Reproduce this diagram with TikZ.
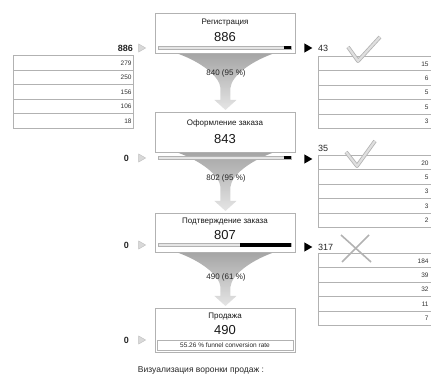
\documentclass[tikz,border=0pt]{standalone}
\usepackage{fontspec}
\setmainfont{Liberation Sans}
\usetikzlibrary{calc,shapes.geometric}
\tikzset{
  stagebox/.style={draw=gray!60, line width=0.9pt, fill=white, minimum width=140pt, anchor=north west, inner sep=0pt},
  ttl/.style={font=\fontsize{8}{9}\selectfont, text=black!90, inner sep=0pt},
  bignum/.style={font=\fontsize{13}{14}\selectfont, text=black!90, inner sep=0pt},
  flbl/.style={font=\fontsize{8}{9}\selectfont, text=black!85, inner sep=0pt},
  sidenum/.style={font=\bfseries\fontsize{9}{10}\selectfont, text=black!85, inner sep=0pt},
  rowL/.style={draw=gray!60, line width=1pt, fill=white, anchor=north west, minimum height=14.6pt, text width=116pt, align=right, inner sep=2pt, font=\fontsize{6.5}{7}\selectfont, text=black!80},
  rowR/.style={rowL, text width=112pt, align=right},
  ltri/.style={isosceles triangle, isosceles triangle apex angle=60, minimum height=7pt, inner sep=0pt, fill=gray!30, draw=gray!50},
  rtri/.style={isosceles triangle, isosceles triangle apex angle=60, minimum height=8pt, inner sep=0pt, fill=black},
  barlight/.style={fill=gray!20, draw=gray!60, line width=0.6pt},
  bardark/.style={fill=black},
  checkst/.style={draw=gray!60, double=gray!25, double distance=2.2pt, line width=0.8pt, line join=round},
  crossst/.style={draw=gray!60, line width=1.6pt},
  funnelst/.style={top color=gray!70, bottom color=gray!20, draw=none}
}
\newcommand\myfunnel[2]{%
  \shade[funnelst] let \p1=(#1.south), \p2=(#2.north) in
   (\x1-47pt,\y1) .. controls (\x1-25pt,\y1-8pt) and (\x1-6pt,\y1-22pt) .. (\x1-5pt,\y1-34pt)
   -- (\x1-5pt,\y2+12pt) -- (\x1-11pt,\y2+12pt) -- (\x1,\y2+2pt) -- (\x1+11pt,\y2+12pt)
   -- (\x1+5pt,\y2+12pt) -- (\x1+5pt,\y1-34pt)
   .. controls (\x1+6pt,\y1-22pt) and (\x1+25pt,\y1-8pt) .. (\x1+47pt,\y1) -- cycle;}
\begin{document}
\begin{tikzpicture}[x=1pt,y=-1pt]
\useasboundingbox (0,0) rectangle (431,379);
\clip (0,0) rectangle (431,379);

% stage boxes
\node[stagebox, minimum height=40pt] (s1) at (155,13) {};
\node[stagebox, minimum height=40pt] (s2) at (155,112) {};
\node[stagebox, minimum height=39pt] (s3) at (155,213) {};
\node[stagebox, minimum height=44pt] (s4) at (155,308) {};

% funnels
\myfunnel{s1}{s2}
\myfunnel{s2}{s3}
\myfunnel{s3}{s4}
\node[flbl] (f1) at (226,73) {840 (95 \%)};
\node[flbl] (f2) at (226,178) {802 (95 \%)};
\node[flbl] (f3) at (226,277) {490 (61 \%)};

% titles and numbers
\node[ttl] (t1) at (225,23) {Регистрация};
\node[bignum] (n1) at (225,37) {886};
\node[ttl] (t2) at (225,123) {Оформление заказа};
\node[bignum] (n2) at (225,139) {843};
\node[ttl] (t3) at (225,222) {Подтверждение заказа};
\node[bignum] (n3) at (225,235) {807};
\node[ttl] (t4) at (225,317) {Продажа};
\node[bignum] (n4) at (225,330) {490};
\node[draw=gray!60, line width=0.5pt, minimum width=136pt, minimum height=10pt, inner sep=0pt,
      font=\fontsize{6.5}{7}\selectfont, text=black!85] (c4) at (225,345) {55.26 \% funnel conversion rate};

% bars
\path[barlight] (158,46.5) rectangle (291,49.5);
\path[bardark] (284,46.5) rectangle (291,49.5);
\path[barlight] (158,156.5) rectangle (291,159.5);
\path[bardark] (284,156.5) rectangle (291,159.5);
\path[barlight] (158,243.5) rectangle (291,246.5);
\path[bardark] (240,243) rectangle (291,247);

% left side
\node[sidenum, anchor=east] (l1) at (133,48) {886};
\node[ltri] (lt1) at (141,48) {};
\node[sidenum, anchor=east] (l2) at (129,158) {0};
\node[ltri] (lt2) at (141,158) {};
\node[sidenum, anchor=east] (l3) at (129,245) {0};
\node[ltri] (lt3) at (141,245) {};
\node[sidenum, anchor=east] (l4) at (129,340) {0};
\node[ltri] (lt4) at (141,340) {};

\foreach \v [count=\i] in {279,250,156,106,18}
  \node[rowL] (la\i) at (13,{55+(\i-1)*14.6}) {\v};

% right side
\node[rtri] (rt1) at (307,48) {};
\node[sidenum, font=\fontsize{9}{10}\selectfont, anchor=west] (r1) at (318,48) {43};
\node[rtri] (rt2) at (307,159) {};
\node[sidenum, font=\fontsize{9}{10}\selectfont, anchor=west] (r2) at (318,148) {35};
\node[rtri] (rt3) at (307,247) {};
\node[sidenum, font=\fontsize{9}{10}\selectfont, anchor=west] (r3) at (318,247) {317};

\foreach \v [count=\i] in {15,6,5,5,3}
  \node[rowR] (ra\i) at (318,{56+(\i-1)*14.4}) {\v\hspace*{4pt}};
\foreach \v [count=\i] in {20,5,3,3,2}
  \node[rowR] (rb\i) at (318,{155+(\i-1)*14.4}) {\v\hspace*{4pt}};
\foreach \v [count=\i] in {184,39,32,11,7}
  \node[rowR] (rc\i) at (318,{253+(\i-1)*14.4}) {\v\hspace*{4pt}};

% marks
\draw[checkst] (348,47) -- (358,61) -- (380,37);
\draw[checkst] (346,152) -- (357,166) -- (375,141);
\draw[crossst] (341,235) -- (371,262);
\draw[crossst] (369,235) -- (342,262);

% caption
\node[font=\fontsize{8.5}{9}\selectfont, text=black!85, inner sep=0pt] (cap) at (201,370) {Визуализация воронки продаж :};
\end{tikzpicture}
\end{document}
